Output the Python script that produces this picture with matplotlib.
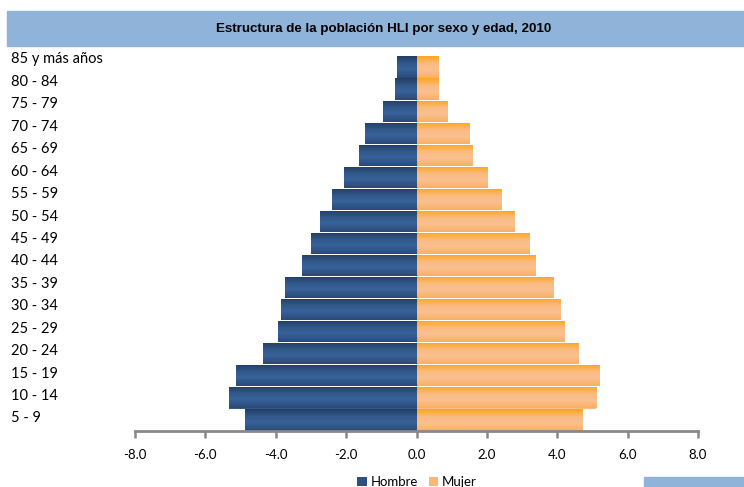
import numpy as np
import matplotlib
matplotlib.use("Agg")
import matplotlib.pyplot as plt
from matplotlib.colors import LinearSegmentedColormap
from matplotlib.patches import Rectangle, Patch

# grupos de edad (de menor a mayor) y porcentaje de la poblacion HLI
grupos = ["5 - 9", "10 - 14", "15 - 19", "20 - 24", "25 - 29", "30 - 34",
          "35 - 39", "40 - 44", "45 - 49", "50 - 54", "55 - 59", "60 - 64",
          "65 - 69", "70 - 74", "75 - 79", "80 - 84", "85 y más años"]
hombres = [4.86, 5.34, 5.14, 4.35, 3.95, 3.84, 3.75, 3.24, 3.01, 2.73,
           2.41, 2.05, 1.62, 1.45, 0.94, 0.62, 0.54]
mujeres = [4.69, 5.09, 5.20, 4.60, 4.20, 4.09, 3.89, 3.38, 3.21, 2.78,
           2.41, 1.99, 1.59, 1.50, 0.88, 0.60, 0.60]
xticks = [-8, -6, -4, -2, 0, 2, 4, 6, 8]

azul_band = "#8fb3d9"
gris = "#898989"

# degradado vertical: oscuro en los bordes, claro al centro
cmap_h = LinearSegmentedColormap.from_list(
    "h", [(0, "#223f66"), (0.35, "#33598a"), (0.6, "#38629a"), (1, "#2a4a75")])
cmap_m = LinearSegmentedColormap.from_list(
    "m", [(0, "#ffa51a"), (0.35, "#f9bb84"), (0.65, "#f9c08f"), (1, "#fbb060")])

plt.rcParams['font.family'] = ['Lato', 'DejaVu Sans']

fig = plt.figure(figsize=(7.44, 4.87), dpi=100)
ax = fig.add_axes([135 / 744, 56 / 487, 563 / 744, 375 / 487])

y = np.arange(len(grupos))
bars_h = ax.barh(y, [-v for v in hombres], height=0.96, color="#33598a", lw=0)
bars_m = ax.barh(y, mujeres, height=0.96, color="#f9bb84", lw=0)

grad = np.linspace(0, 1, 64).reshape(-1, 1)
for bars, cmap in ((bars_h, cmap_h), (bars_m, cmap_m)):
    for p in bars:
        x0, y0 = p.get_x(), p.get_y()
        w, h = p.get_width(), p.get_height()
        im = ax.imshow(grad, cmap=cmap, aspect="auto", origin="upper",
                       extent=(min(x0, x0 + w), max(x0, x0 + w), y0, y0 + h),
                       zorder=2)
        im.set_clip_path(p)

ax.set_xlim(-8, 8)
ax.set_ylim(-0.5, len(grupos) - 0.5)

for s in ("top", "right", "left"):
    ax.spines[s].set_visible(False)
ax.spines["bottom"].set_color(gris)
ax.spines["bottom"].set_linewidth(2)
ax.spines["bottom"].set_zorder(3)

ax.set_xticks(xticks)
ax.set_xticklabels([f"{v:.1f}" for v in xticks], fontsize=9.5)
ax.tick_params(axis="x", direction="out", length=5, width=1.8, color=gris, pad=8)

# las etiquetas de edad van un poco mas juntas y altas que las barras
ax.set_yticks(np.linspace(0.135, 16.41, len(grupos)))
ax.set_yticklabels(grupos, fontsize=10.5, ha="left")
ax.tick_params(axis="y", length=0, pad=89)

# franja del titulo y recuadro inferior
fig.patches.append(Rectangle((7 / 744, 1 - 46 / 487), 1, 35 / 487,
                             transform=fig.transFigure, color=azul_band, zorder=0))
fig.patches.append(Rectangle((644 / 744, 0), 100 / 744, 10 / 487,
                             transform=fig.transFigure, color=azul_band, zorder=0))
fig.text(0.515, 1 - 29 / 487, "Estructura de la población HLI por sexo y edad, 2010",
         ha="center", va="center", fontsize=9.6, fontweight="bold",
         family=["Liberation Sans", "DejaVu Sans"])

handles = [Patch(facecolor="#2e507e", label="Hombre"),
           Patch(facecolor="#f9b877", label="Mujer")]
fig.legend(handles=handles, loc="center", bbox_to_anchor=(417 / 744, 5 / 487),
           ncol=2, frameon=False, fontsize=9.5, handlelength=0.7,
           handleheight=0.7, handletextpad=0.3, columnspacing=0.8)

fig.savefig("out.png", dpi=100)
